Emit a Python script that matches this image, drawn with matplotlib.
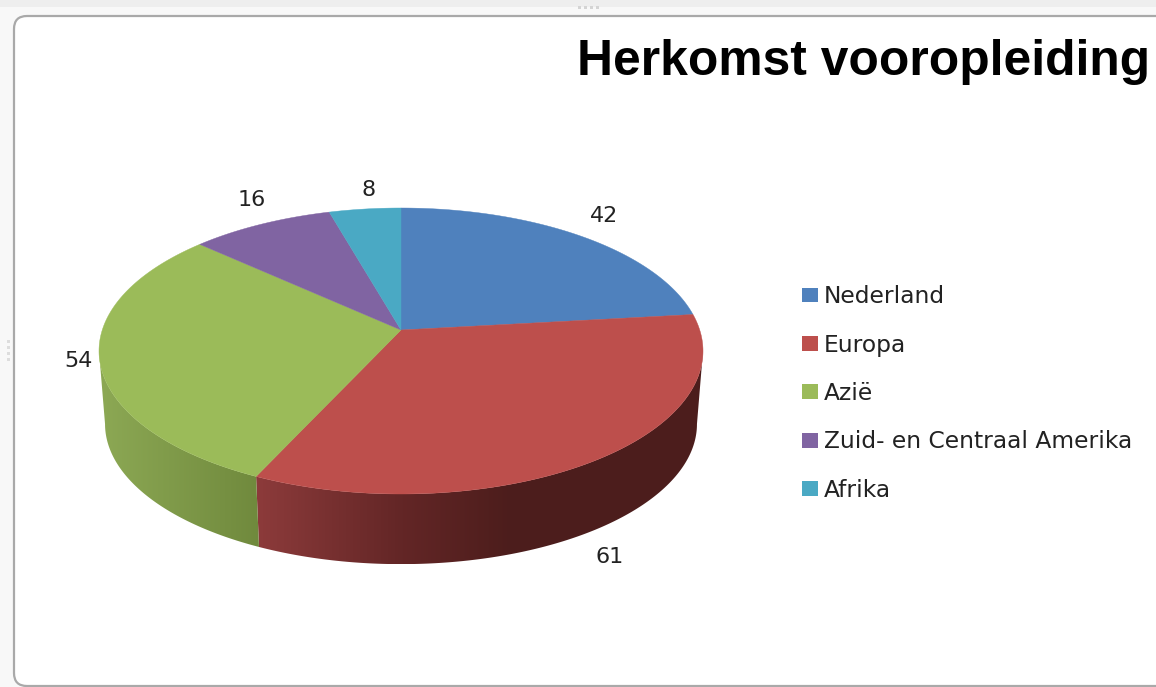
import numpy as np
import matplotlib
matplotlib.use("Agg")
import matplotlib.pyplot as plt
from matplotlib.patches import FancyBboxPatch, Patch, Polygon, Rectangle

# Chart data
categories = ["Nederland", "Europa", "Azië", "Zuid- en Centraal Amerika", "Afrika"]
counts = [42, 61, 54, 16, 8]
title = "Herkomst vooropleiding"

# Styling
top_colors = ["#4f81bd", "#bd4f4c", "#9bbb59", "#8064a2", "#4aa9c4"]
wall_ramps = {
    1: [(258, (0.55, 0.23, 0.23)), (400, (0.39, 0.15, 0.15)), (510, (0.30, 0.115, 0.11)), (700, (0.30, 0.115, 0.11))],
    2: [(100, (0.55, 0.66, 0.33)), (258, (0.44, 0.54, 0.24))],
}
label_xy = [(604, 216), (610, 557), (78, 361), (252, 200), (369, 190)]

# Geometry of the tilted disc, in figure pixels
CX, CY, RY, SHIFT = 401.0, 351.0, 143.0, 21.0
RX_EDGE = 302.0
TILT = SHIFT / RY
RX = RX_EDGE * np.sqrt(1 - TILT ** 2)
BOTTOM_CY, BOTTOM_SCALE_X, BOTTOM_SCALE_Y = 424.0, 0.98, 0.98


def project(theta, radius=1.0):
    """Perspective view of a point on the unit disc; theta runs clockwise from the top."""
    u = radius * np.sin(theta)
    v = radius * np.cos(theta)
    w = 1 + TILT * v
    return RX * u / w, (RY * v + SHIFT) / w


def top_rim(theta):
    x, y = project(theta)
    return CX + x, CY - y


def bottom_rim(theta):
    x, y = project(theta)
    return CX + BOTTOM_SCALE_X * x, BOTTOM_CY - BOTTOM_SCALE_Y * y


fig = plt.figure(figsize=(11.56, 6.87), dpi=100, facecolor="#f8f8f8")
ax = fig.add_axes([0, 0, 1, 1])
ax.set_xlim(0, 1156)
ax.set_ylim(687, 0)
ax.axis("off")

# Window chrome around the chart area
ax.add_patch(Rectangle((0, 0), 1156, 7, fc="#eeeeee", ec="none"))
ax.add_patch(FancyBboxPatch((14, 16), 1200, 670, boxstyle="round,pad=0,rounding_size=13",
                            fc="white", ec="#a9a9a9", lw=1.6))
for hx in (578, 584, 590, 596):
    ax.add_patch(Rectangle((hx, 6), 3, 3, fc="#d4d4d4", ec="none"))
for hy in (340, 346, 352, 358):
    ax.add_patch(Rectangle((7, hy), 3, 3, fc="#dddddd", ec="none"))

# Slice boundaries, clockwise from twelve o'clock
shares = np.asarray(counts, dtype=float) / np.sum(counts)
edges = np.concatenate([[0.0], np.cumsum(shares)]) * 2 * np.pi

# Side wall: only the part of the rim that faces the viewer, shaded left to right
wall_start, wall_end = np.arccos(-TILT), 2 * np.pi - np.arccos(-TILT)
for i, ramp in wall_ramps.items():
    lo, hi = max(edges[i], wall_start), min(edges[i + 1], wall_end)
    th = np.linspace(lo, hi, 300)
    xt, yt = top_rim(th)
    xb, yb = bottom_rim(th)
    outline = np.column_stack([np.r_[xt, xb[::-1]], np.r_[yt, yb[::-1]]])
    x0, x1 = outline[:, 0].min(), outline[:, 0].max()
    y0, y1 = outline[:, 1].min(), outline[:, 1].max()
    columns = np.linspace(x0, x1, 400)
    stops = [p[0] for p in ramp]
    shade = np.stack([np.interp(columns, stops, [p[1][c] for p in ramp]) for c in range(3)], axis=-1)
    clip = Polygon(outline, closed=True, transform=ax.transData, fc="none", ec="none")
    ax.add_patch(clip)
    img = ax.imshow(shade[np.newaxis, :, :], extent=(x0, x1, y1, y0), aspect="auto",
                    interpolation="bilinear", zorder=2)
    img.set_clip_path(clip)
ax.set_xlim(0, 1156)
ax.set_ylim(687, 0)

# Top surface
for i, color in enumerate(top_colors):
    th = np.linspace(edges[i], edges[i + 1], 200)
    xr, yr = top_rim(th)
    x0, y0 = project(0.0, 0.0)
    ax.fill(np.r_[CX + x0, xr], np.r_[CY - y0, yr], color=color, lw=0.3, zorder=3)

# Value labels
for value, (lx, ly) in zip(counts, label_xy):
    ax.text(lx, ly, str(value), ha="center", va="center", fontsize=16,
            color="#222222", family="DejaVu Sans", zorder=5)

ax.text(1150, 62, title, ha="right", va="center", fontsize=35.8, fontweight="bold",
        color="black", family="Liberation Sans", zorder=5)

handles = [Patch(facecolor=c, edgecolor="none") for c in top_colors]
leg = ax.legend(handles, categories, loc="center left", bbox_to_anchor=(802, 393.5),
                bbox_transform=ax.transData, frameon=False, fontsize=16.8,
                handlelength=0.69, handleheight=0.6, handletextpad=0.25,
                labelspacing=1.087, borderpad=0, borderaxespad=0)
for t in leg.get_texts():
    t.set_color("#222222")

fig.savefig("out.png", dpi=100, facecolor=fig.get_facecolor())
